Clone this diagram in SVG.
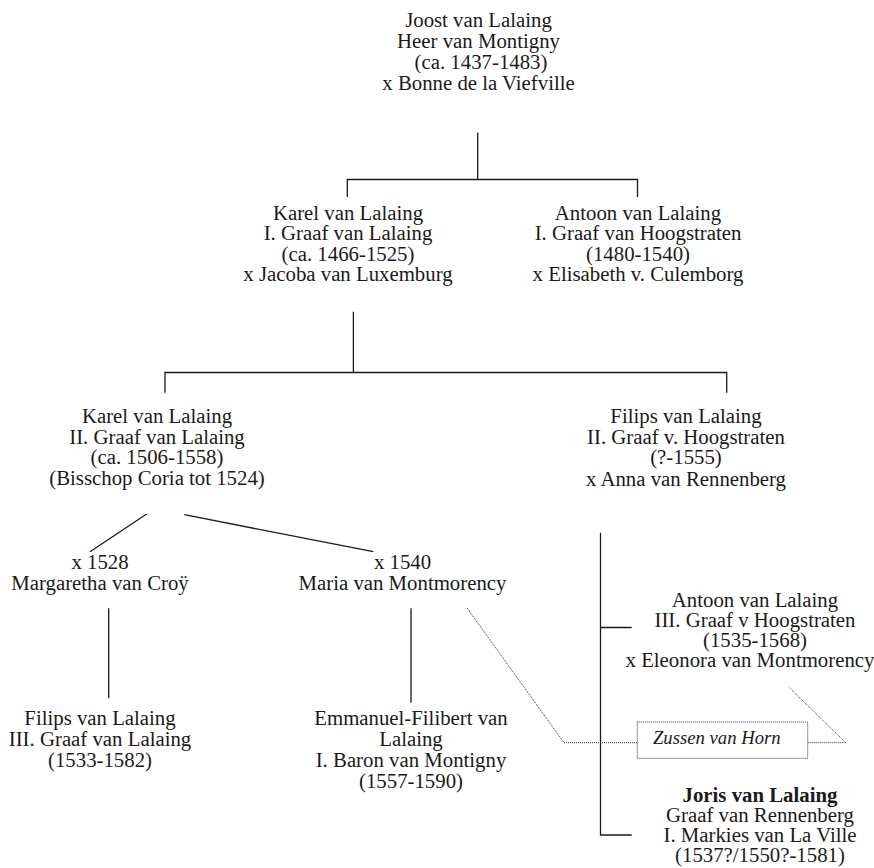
<svg xmlns="http://www.w3.org/2000/svg" width="874" height="868" viewBox="0 0 874 868">
<style>
text{font-family:"Liberation Serif","Times New Roman",serif;font-size:20.8px;fill:#1a1a1a;text-anchor:middle}
.b{font-weight:bold}
.i{font-style:italic;font-size:18.7px}
.ln{fill:none;stroke:#1a1a1a;stroke-width:1.3}
.dt{fill:none;stroke:#333;stroke-width:1;stroke-dasharray:1 1}
</style>
<rect width="874" height="868" fill="#fff"/>
<g id="connectors">
<path class="ln" d="M477.7 132.7V179.5M347.3 197V179.5H637.5V197"/>
<path class="ln" d="M353.4 311.7V372.5M165 392.7V372.5H726.7V392.7"/>
<path class="ln" d="M146.7 514L90 551.7M184.3 514.7L373.3 551.7"/>
<path class="ln" d="M108.7 608.3V698.3M411 608.3V702.7"/>
<path class="ln" d="M600.5 532.7V835H631.7M600.5 627.5H631.7"/>
<path class="dt" d="M467 608L564 742.7H637.3M807.7 742.7H845.7L789.3 687.7"/>
</g>
<g id="joost">
<text x="478.5" y="27">Joost van Lalaing</text>
<text x="478.5" y="48">Heer van Montigny</text>
<text x="481" y="68.5">(ca. 1437-1483)</text>
<text x="478.5" y="89.5">x Bonne de la Viefville</text>
</g>
<g id="karel1">
<text x="348" y="219.5">Karel van Lalaing</text>
<text x="348" y="240">I. Graaf van Lalaing</text>
<text x="348" y="260.5">(ca. 1466-1525)</text>
<text x="348" y="281">x Jacoba van Luxemburg</text>
</g>
<g id="antoon1">
<text x="638" y="219.5">Antoon van Lalaing</text>
<text x="638" y="240">I. Graaf van Hoogstraten</text>
<text x="638" y="260.5">(1480-1540)</text>
<text x="638" y="281">x Elisabeth v. Culemborg</text>
</g>
<g id="karel2">
<text x="157" y="423.3">Karel van Lalaing</text>
<text x="157" y="444">II. Graaf van Lalaing</text>
<text x="157" y="464.3">(ca. 1506-1558)</text>
<text x="157" y="484.7">(Bisschop Coria tot 1524)</text>
</g>
<g id="filips2">
<text x="686" y="423.3">Filips van Lalaing</text>
<text x="686" y="444">II. Graaf v. Hoogstraten</text>
<text x="686" y="464.3">(?-1555)</text>
<text x="686" y="485.5">x Anna van Rennenberg</text>
</g>
<g id="margaretha">
<text x="100" y="569">x 1528</text>
<text x="100" y="590">Margaretha van Croÿ</text>
</g>
<g id="maria">
<text x="402.5" y="569">x 1540</text>
<text x="402.5" y="590">Maria van Montmorency</text>
</g>
<g id="filips3">
<text x="100" y="725">Filips van Lalaing</text>
<text x="100" y="746">III. Graaf van Lalaing</text>
<text x="100" y="766.7">(1533-1582)</text>
</g>
<g id="emmanuel">
<text x="411" y="725">Emmanuel-Filibert van</text>
<text x="411" y="746">Lalaing</text>
<text x="411" y="766.7">I. Baron van Montigny</text>
<text x="411" y="787.5">(1557-1590)</text>
</g>
<g id="antoon3">
<text x="755" y="606.7">Antoon van Lalaing</text>
<text x="755" y="627">III. Graaf v Hoogstraten</text>
<text x="755" y="647">(1535-1568)</text>
<text x="750" y="666.5">x Eleonora van Montmorency</text>
</g>
<g id="horn">
<rect class="dt" x="637.3" y="722" width="170.4" height="36.3"/>
<text class="i" x="716.8" y="744">Zussen van Horn</text>
</g>
<g id="joris">
<text class="b" x="760" y="801.7">Joris van Lalaing</text>
<text x="760" y="822">Graaf van Rennenberg</text>
<text x="760" y="842">I. Markies van La Ville</text>
<text x="760" y="862">(1537?/1550?-1581)</text>
</g>
</svg>
